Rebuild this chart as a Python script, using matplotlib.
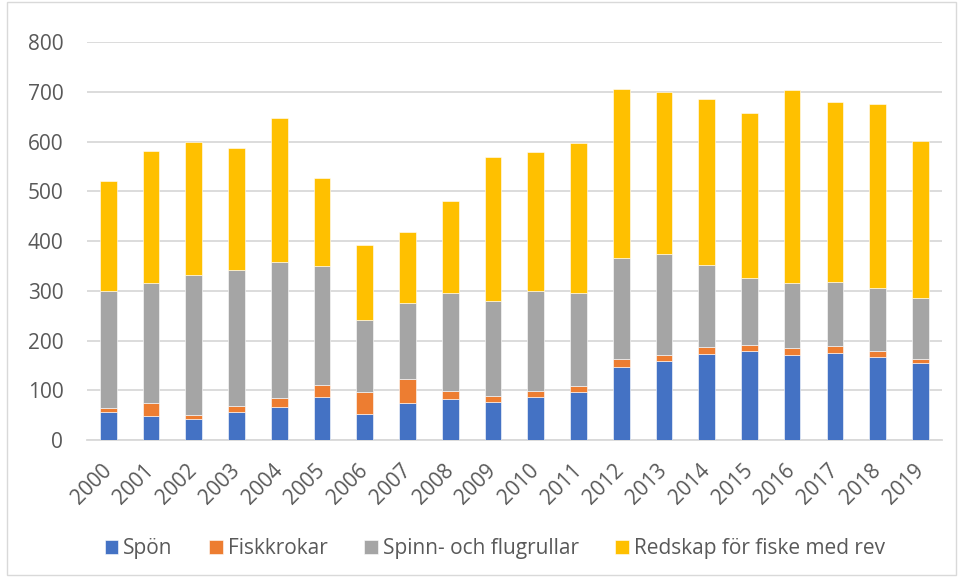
import matplotlib.pyplot as plt
import numpy as np
from matplotlib.patches import Rectangle

# Data
years = [str(y) for y in range(2000, 2020)]
spon = [56, 48, 42, 56, 66, 86, 52, 74, 82, 76, 86, 96, 146, 158, 173, 178, 171, 174, 166, 154]
fiskkrokar = [8, 27, 8, 13, 19, 25, 44, 49, 17, 13, 12, 12, 16, 13, 13, 13, 13, 15, 13, 9]
spinn = [235, 240, 282, 273, 273, 239, 145, 153, 196, 191, 202, 188, 204, 203, 166, 135, 131, 128, 127, 123]
redskap = [221, 265, 268, 245, 289, 176, 150, 143, 186, 288, 278, 301, 340, 325, 334, 332, 389, 362, 370, 315]

series = [
    ("Spön", spon, "#4472C4"),
    ("Fiskkrokar", fiskkrokar, "#ED7D31"),
    ("Spinn- och flugrullar", spinn, "#A5A5A5"),
    ("Redskap för fiske med rev", redskap, "#FFC000"),
]

plt.rcParams['font.family'] = ['Open Sans', 'DejaVu Sans']

fig = plt.figure(figsize=(9.59, 5.77), dpi=100)
ax = fig.add_axes([0.0907, 0.2374, 0.8913, 0.6898])

x = np.arange(len(years))
bottom = np.zeros(len(years))
for name, vals, color in series:
    ax.bar(x, vals, width=0.39, bottom=bottom, color=color, label=name,
           edgecolor="white", linewidth=0.4, zorder=3)
    bottom = bottom + np.array(vals)

ax.set_ylim(0, 800)
ax.set_xlim(-0.5, len(years) - 0.5)
ax.set_yticks(range(0, 801, 100))
ax.yaxis.grid(True, color="#D9D9D9", linewidth=1.3, zorder=0)
ax.set_axisbelow(True)
for side in ["top", "right", "left"]:
    ax.spines[side].set_visible(False)
ax.spines["bottom"].set_color("#D9D9D9")
ax.spines["bottom"].set_linewidth(1.3)
ax.tick_params(axis="both", length=0, colors="#595959", labelsize=15)
ax.tick_params(axis="y", pad=17)
ax.set_xticks(x)
ax.set_xticklabels(years, rotation=45, ha="right", va="center", rotation_mode="anchor")
ax.tick_params(axis="x", pad=20)

leg = fig.legend(loc="center", bbox_to_anchor=(0.516, 0.049), ncol=4, frameon=False,
                 fontsize=15, handlelength=0.65, handleheight=0.65, handletextpad=0.25,
                 columnspacing=1.75)
for t in leg.get_texts():
    t.set_color("#595959")

fig.patches.append(Rectangle((0.007, 0.003), 0.99, 0.994, transform=fig.transFigure,
                             fill=False, edgecolor="#D9D9D9", linewidth=1))

plt.savefig("out.png", dpi=100)
